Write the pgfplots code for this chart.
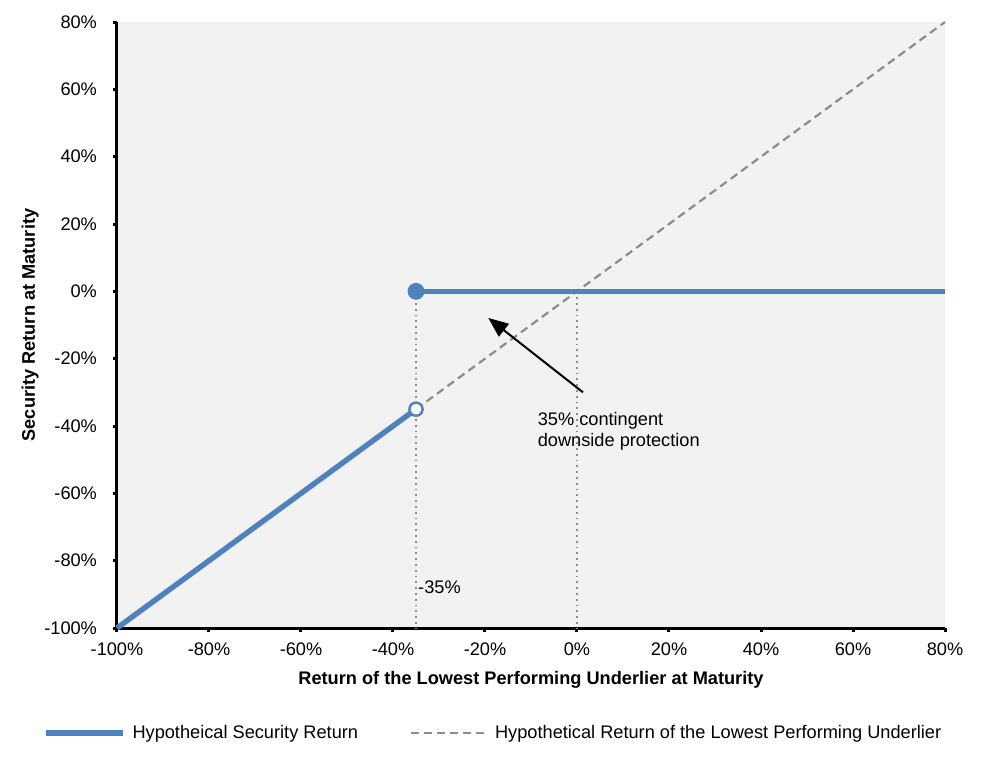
\documentclass[border=0pt]{standalone}
\usepackage{fontspec}
\setmainfont{Liberation Sans}
\usepackage{pgfplots}
\pgfplotsset{compat=1.18}
\usetikzlibrary{arrows.meta}
\definecolor{bluel}{HTML}{4F81BD}
\definecolor{bgc}{HTML}{F2F2F2}
\definecolor{dgray}{HTML}{8C8C8C}
\newcommand{\fs}{\fontsize{9.1}{10.5}\selectfont}
\begin{document}
\begin{tikzpicture}
\path[use as bounding box] (-58.5pt,-72pt) rectangle (432pt,314pt);
\begin{axis}[
  at={(0,0)}, anchor=south west,
  scale only axis, width=414pt, height=303pt,
  xmin=-100, xmax=80, ymin=-100, ymax=80,
  axis x line*=bottom, axis y line*=left,
  axis line style={line width=1.5pt, black},
  axis background/.style={fill=bgc},
  tick align=outside, major tick length=2pt,
  tick style={line width=1.5pt, black},
  xtick={-100,-80,...,80}, ytick={-100,-80,...,80},
  xticklabels={-100\%,-80\%,-60\%,-40\%,-20\%,0\%,20\%,40\%,60\%,80\%},
  yticklabels={-100\%,-80\%,-60\%,-40\%,-20\%,0\%,20\%,40\%,60\%,80\%},
  ticklabel style={font=\fs},
  yticklabel style={xshift=-4.5pt},
  xticklabel style={yshift=-2pt},
  xlabel={Return of the Lowest Performing Underlier at Maturity},
  ylabel={Security Return at Maturity},
  label style={font=\fs\bfseries},
  xlabel style={at={(axis description cs:0.5,-0.0858)}, anchor=center},
  ylabel style={at={(axis description cs:-0.105,0.5)}, anchor=center, rotate=0},
  clip=false,
  legend columns=2,
  legend style={at={(axis description cs:-0.0885,-0.1733)}, anchor=west,
    draw=none, fill=none, inner sep=0pt, outer sep=0pt,
    font=\fs,
    nodes={inner xsep=3.2pt},
    /tikz/every even column/.style={column sep=22.5pt}},
  legend cell align=left,
  legend image code/.code={\draw[#1] (0pt,0pt) -- (38.5pt,0pt);},
]
% dotted verticals
\addplot[dgray, line width=0.9pt, dotted, forget plot] coordinates {(-35,0) (-35,-100)};
\addplot[dgray, line width=0.9pt, dotted, forget plot] coordinates {(0,0) (0,-100)};
% blue diagonal
\addplot[bluel, line width=2.7pt] coordinates {(-100,-100) (-35,-35)};
\addlegendentry{Hypotheical Security Return}
% dashed diagonal
\addplot[dgray, line width=1.1pt, dash pattern=on 4pt off 2.5pt] coordinates {(-35,-35) (80,80)};
\addlegendentry{Hypothetical Return of the Lowest Performing Underlier}
% blue horizontal
\addplot[bluel, line width=2.7pt, forget plot] coordinates {(-35,0) (80,0)};
% marks
\addplot[only marks, mark=*, mark size=4pt, bluel, forget plot] coordinates {(-35,0)};
\addplot[only marks, mark=*, mark size=3.3pt, mark options={fill=white, draw=bluel, line width=1.2pt}, forget plot] coordinates {(-35,-35)};
% annotation arrow
\draw[-{Triangle[length=10pt,width=8pt]}, line width=1pt, black] (axis cs:1.3,-30) -- (axis cs:-19.3,-7.9);
\node[anchor=north west, align=left, inner sep=0pt, font=\fs] at (axis cs:-8.6,-35.7) {35\% contingent\\downside protection};
\node[anchor=west, inner sep=0pt, font=\fs] at (axis cs:-34.6,-87.8) {-35\%};
\end{axis}
\end{tikzpicture}
\end{document}
